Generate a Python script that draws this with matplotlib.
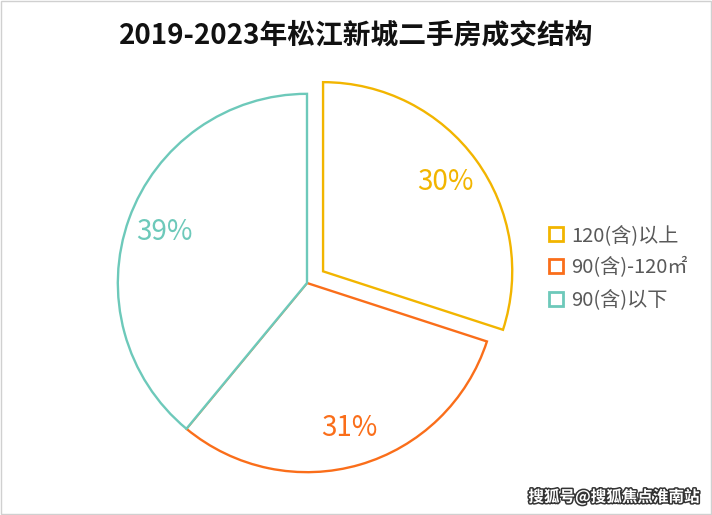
import matplotlib.pyplot as plt
from matplotlib.lines import Line2D
import matplotlib.patheffects as pe

plt.rcParams['font.family'] = ['Noto Sans CJK SC', 'DejaVu Sans']

labels = ['120(含)以上', '90(含)-120㎡', '90(含)以下']
values = [30, 31, 39]
colors = ['#F2B500', '#FA6E1A', '#6DC9BA']
title = '2019-2023年松江新城二手房成交结构'

fig = plt.figure(figsize=(7.12, 5.15), dpi=100)
L = 1.2
ax = fig.add_axes([80 / 712, 5 / 515, 454 / 712, 454 / 515])

wedges, texts, autotexts = ax.pie(
    values, colors=['white'] * 3, startangle=90, counterclock=False,
    explode=[0.105, 0, 0], autopct='%d%%', pctdistance=0.8,
    wedgeprops=dict(linewidth=1.7, edgecolor='none'))
for w, c, t in zip(wedges, colors, autotexts):
    w.set_edgecolor(c)
    t.set_color(c)
    t.set_fontsize(20)
    t.set_fontweight('medium')
ax.set_xlim(-L, L)
ax.set_ylim(-L, L)
ax.set_aspect('equal')
ax.axis('off')

fig.text(0.5, 1 - 35 / 515, title, ha='center', va='center',
         fontsize=20, fontweight='bold', color='#111111')

handles = [Line2D([], [], marker='s', linestyle='none', markersize=10,
                  markerfacecolor='white', markeredgecolor=c, markeredgewidth=2)
           for c in colors]
leg = fig.legend(handles, labels, loc='center left', bbox_to_anchor=(531 / 712, 1 - 268 / 515),
                 frameon=False, fontsize=14.5, handlelength=0.7, handletextpad=0.4,
                 labelspacing=0.55, labelcolor='#595959')

fig.text(699 / 712, 1 - 497 / 515, '搜狐号@搜狐焦点淮南站', ha='right', va='center',
         fontsize=11.2, fontweight='bold', color='white',
         path_effects=[pe.withStroke(linewidth=2.2, foreground='#333333')])

fig.patches.append(plt.Rectangle((0.001, 0.002), 0.997, 0.996, transform=fig.transFigure,
                                 fill=False, edgecolor='#d0d0d0', linewidth=1))

fig.savefig('out.png', dpi=100)
